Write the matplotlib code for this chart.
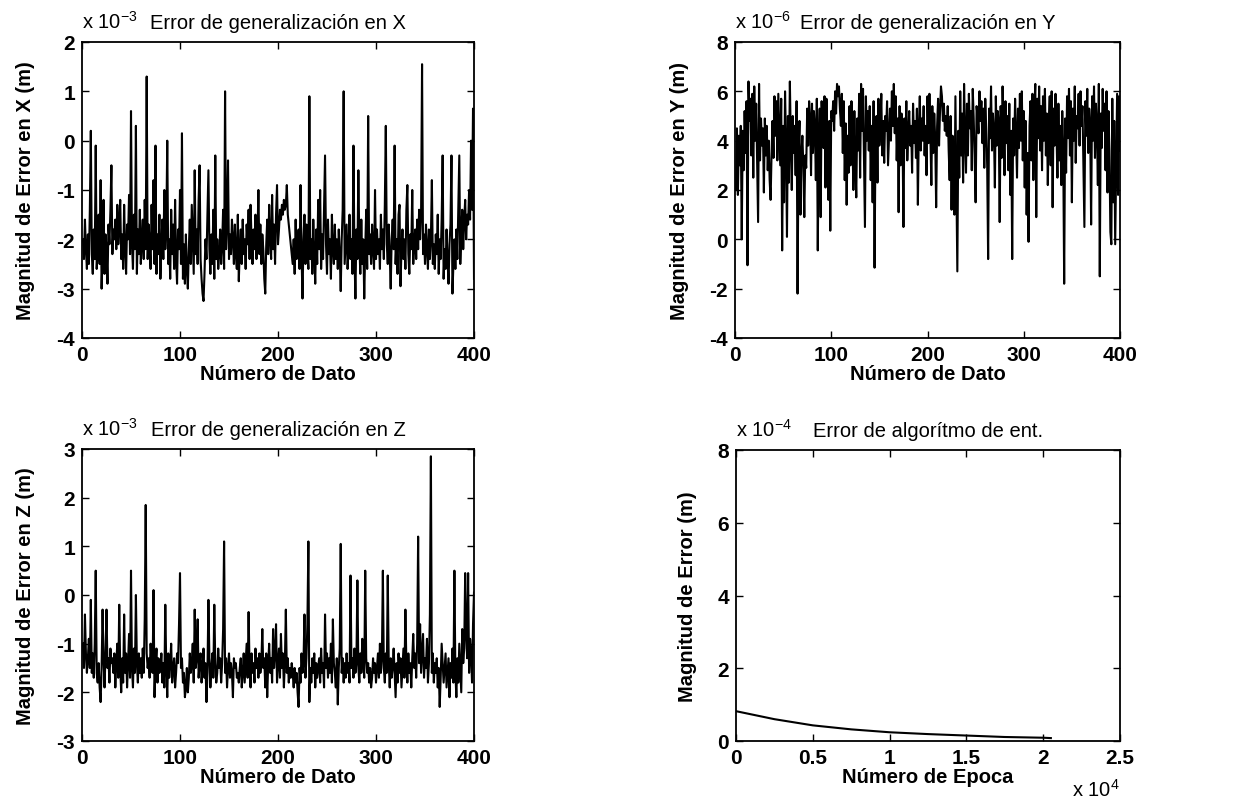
import matplotlib
matplotlib.use('Agg')
import matplotlib.pyplot as plt
import numpy as np

plt.rcParams['font.family'] = ['Liberation Sans', 'DejaVu Sans']
plt.rcParams['mathtext.fontset'] = 'custom'
plt.rcParams['mathtext.rm'] = 'Liberation Sans'
plt.rcParams['mathtext.it'] = 'Liberation Sans'
plt.rcParams['axes.unicode_minus'] = False

# error in X (x 1e-3 m), data points 1..400
err_x = [
    -2.0, -2.4, -1.6, -2.2, -2.6, -1.9, -2.5, -1.4, 0.2, -2.3, -2.7, -1.8, -2.4, -0.1, -2.6, -2.2, -1.5, -2.5, -0.8, -3.0,
    -2.3, -1.2, -2.7, -1.9, -2.2, -2.9, -1.7, -2.1, -1.4, -0.5, -2.3, -1.8, -2.0, -1.6, -2.2, -1.3, -2.1, -1.7, -1.2, -2.4,
    -1.9, -2.6, -1.3, -2.2, -2.7, -1.7, -2.0, -1.1, -2.3, 0.6, -2.1, -2.6, -1.5, -2.2, 0.3, -2.7, -1.8, -2.3, -1.4, -2.5,
    -2.0, -1.6, -2.4, -1.2, -2.2, 1.3, -2.4, -1.7, -2.1, -2.6, -1.3, -2.2, -0.8, -2.5, -0.1, -2.7, -1.9, -2.3, -1.5, -2.8,
    -2.1, -1.6, -2.4, -1.0, -2.2, -1.8, 0.0, -2.5, -2.0, -2.8, -1.4, -2.3, -1.7, -2.6, -1.2, -2.4, -2.9, -1.8, -2.2, -1.0,
    -2.5, 0.15, -2.8, -2.1, -2.9, -1.9, -2.6, -3.0, -2.2, -1.6, -2.5, -1.3, -2.0, -2.7, -0.6, -2.3, -1.8, -2.5, -1.2, -0.5,
    -2.4, -2.8, -3.1, -3.25, -2.7, -2.0, -2.4, -1.5, -0.6, -2.2, -2.7, -1.9, -2.5, -1.4, -2.8, -0.3, -2.4, -2.0, -2.6, -2.3,
    -1.8, -2.5, -2.1, -1.4, -2.6, 1.0, -2.2, -1.7, -0.4, -2.4, -1.9, -2.3, -1.6, -2.0, -2.5, -1.7, -2.3, -2.6, -1.5, -2.85,
    -2.2, -1.8, -2.5, -1.6, -2.3, -2.0, -2.6, -1.7, -2.1, -1.4, -2.4, -1.3, -2.0, -2.5, -1.8, -2.2, -1.5, -2.4, -2.0, -1.0,
    -2.3, -1.7, -2.5, -1.9, -2.2, -2.8, -3.1, -2.1, -1.6, -2.3, -1.3, -2.0, -2.4, -1.1, -2.2, -1.7, -2.5, -1.5, -0.9, -2.1,
    -1.8, -1.4, -1.6, -1.3, -1.5, -1.2, -1.4, -1.3, -0.9, -1.5, -1.7, -1.9, -2.1, -2.3, -2.5, -2.0, -2.7, -1.6, -2.4, -2.2,
    -1.8, -2.6, -0.9, -2.3, -3.2, -2.0, -1.5, -2.5, -1.7, -2.2, -2.6, 0.9, -2.4, -2.0, -2.7, -1.6, -2.3, -2.9, -1.8, -2.5,
    -1.2, -2.2, -1.0, -2.6, -1.9, -2.4, -1.3, -0.3, -2.1, -2.7, -1.6, -2.3, -2.0, -2.8, -1.5, -2.2, -2.5, -1.7, -2.4, -2.0,
    -2.6, -1.8, -2.3, -3.05, -2.0, -1.4, 1.0, -2.5, -2.1, -1.7, -2.6, -2.2, -1.5, -2.4, -2.0, -2.7, -0.1, -2.3, -3.2, -1.8,
    -2.4, -0.6, -2.1, -2.7, -1.6, -2.5, -2.0, -3.2, -2.2, -1.4, -2.6, 0.5, -2.3, -1.9, -2.5, -1.7, -2.2, -2.6, -1.0, -2.4,
    -1.8, -2.3, -2.0, -2.6, -1.5, -2.2, -1.8, -2.4, -1.3, 0.3, -2.1, -2.5, -1.7, -2.3, -3.0, -2.0, -1.6, -2.2, -0.1, -2.5,
    -2.0, -2.7, -1.5, -1.3, -2.95, -2.2, -1.8, -2.4, -2.0, -2.6, -1.4, -0.9, -2.3, -2.7, -1.9, -2.2, -1.0, -2.5, -2.1, -1.8,
    -2.4, -1.6, -2.2, -1.4, -2.0, -1.5, 1.55, -2.3, -1.9, -2.5, -1.7, -2.2, -2.6, -1.8, -2.4, -2.0, -0.8, -2.5, -2.1, -2.6,
    -1.9, -2.3, -1.5, -2.7, -2.0, -2.4, -1.6, -0.3, -2.8, -2.2, -2.6, -1.8, -2.4, -2.9, -2.1, -1.7, -0.3, -3.1, -2.5, -2.0,
    -2.6, -1.8, -2.4, -1.3, -0.3, -2.5, -1.9, -1.4, -2.2, -1.6, -1.2, -2.0, -1.5, -1.7, -1.0, -1.6, 0.0, -1.4, 0.65, -2.8,
]

# error in Y (x 1e-6 m)
err_y = [
    2.0, 4.5, 1.8, 4.2, 3.0, 4.6, 0.0, 4.4, 2.8, 5.2, 3.5, 5.6, -1.05, 6.4, 4.8, 5.7, 3.4, 5.9, 2.5, 6.2,
    4.0, 5.5, 3.0, 0.7, 6.3, 3.2, 4.9, 3.8, 4.5, 1.9, 4.9, 3.4, 4.6, 2.8, 4.0, 2.4, 1.6, 3.5, 4.8, 3.3,
    5.8, 4.2, 5.6, 3.2, 5.9, 4.4, 3.0, 5.7, -0.45, 4.6, 1.5, 6.0, 3.9, 0.1, 5.0, 2.3, 6.4, 4.0, 2.0, 5.0,
    3.5, 4.6, 2.6, 5.6, -2.2, 3.6, 4.8, 1.0, 3.4, 4.2, 3.0, 0.9, 3.4, 2.9, 5.3, 3.8, 5.6, 4.9, 2.6, 5.5,
    3.5, 5.2, 4.5, 2.4, 5.7, -0.45, 4.0, 5.3, 0.9, 5.6, 4.5, 3.7, 5.8, 2.1, 5.7, 4.1, 1.6, 4.8, 0.35, 5.2,
    4.8, 5.6, 4.4, 6.0, 5.1, 6.3, 5.8, 6.2, 5.3, 4.6, 5.9, 3.5, 5.6, 2.4, 4.7, 1.4, 4.2, 2.7, 5.4, 3.0,
    5.6, 4.0, 2.0, 5.2, 3.2, 1.7, 4.9, 3.6, 5.9, 2.5, 6.3, 4.4, 6.1, 3.3, 0.5, 5.8, 4.0, 5.2, 3.6, 5.4,
    2.4, 4.6, 1.5, 5.6, -1.15, 4.2, 5.0, 2.3, 5.7, 3.8, 4.5, 5.9, 3.4, 4.8, 3.1, 5.0, 4.4, 5.6, 3.0, 4.2,
    5.3, 4.0, 6.0, 4.6, 6.3, 4.3, 5.8, 3.2, 4.9, 1.1, 5.4, 3.0, 5.1, 4.4, 0.5, 4.9, 3.7, 5.6, 3.2, 4.3,
    5.2, 3.8, 4.6, 2.7, 5.5, 3.9, 4.8, 3.3, 5.3, 1.4, 4.5, 5.8, 3.6, 4.9, 4.0, 5.4, 3.4, 4.6, 2.6, 5.8,
    3.9, 5.9, 4.2, 2.2, 5.4, 3.5, 5.1, 4.1, 1.3, 4.6, 5.7, 3.8, 5.2, 6.2, 5.8, 4.8, 5.5, 4.4, 5.0, 4.2,
    5.4, 3.6, 2.4, 5.0, 1.2, 4.2, 3.0, 1.0, 5.8, 2.4, -1.3, 4.4, 2.5, 6.0, 3.4, 5.1, 2.3, 6.3, 4.2, 2.7,
    5.5, 3.4, 5.9, 4.5, 5.2, 2.8, 6.1, 4.9, 3.3, 1.5, 5.4, 5.0, 4.3, 6.0, 4.8, 5.6, 3.9, 5.3, 2.9, 5.7,
    4.5, 3.0, -0.8, 5.3, 4.1, 6.2, 3.6, 5.1, 4.4, 2.1, 5.8, 3.8, 5.2, 4.7, 0.7, 5.4, 3.3, 6.2, 4.6, 2.6,
    5.6, 3.9, 5.0, 2.8, 5.5, 1.8, 4.4, -0.8, 4.9, 3.4, 5.7, 4.2, 2.5, 5.3, 3.7, 5.9, 4.0, 6.0, 3.2, 5.2,
    2.1, 4.8, 1.0, 3.5, -0.1, 4.6, 5.6, 3.2, 5.9, 2.4, 5.3, 6.3, 0.9, 5.7, 4.1, 6.2, 3.6, 5.4, 2.8, 5.8,
    4.0, 6.1, 3.4, 5.1, 2.2, 4.7, 5.8, 3.0, 6.0, 1.3, 5.3, 3.8, 5.9, 4.3, 2.5, 5.5, 3.2, 4.6, 2.2, 5.2,
    3.6, -1.8, 4.9, 2.7, 5.8, 4.1, 6.1, 3.4, 5.6, 1.5, 5.3, 4.0, 6.2, 3.1, 5.0, 4.5, 5.9, 3.8, 6.0, 4.6,
    5.4, 2.9, 0.5, 5.6, 4.2, 6.1, 3.5, 5.3, 4.7, 0.6, 5.8, 4.0, 6.2, 3.3, 5.5, 4.6, 2.2, 6.3, -1.5, 5.1,
    3.7, 6.1, 4.4, 5.5, 2.8, 6.0, 1.9, 5.2, 3.6, 0.3, -0.2, 5.7, 1.5, 4.8, -0.2, 3.0, 5.9, 1.8, 5.8, 3.6,
]

# error in Z (x 1e-3 m)
err_z = [
    -1.0, -1.5, -0.4, -1.2, -1.6, -1.3, -0.9, -1.5, -0.1, -1.6, -1.2, -1.7, -1.0, 0.5, -1.6, -1.8, -1.4, -1.9, -2.2, -1.5,
    -0.3, -1.3, -1.9, -1.2, -0.3, -1.5, -1.3, -1.8, -1.1, -1.4, -1.3, -1.6, -1.2, -1.9, -1.4, -1.0, -1.7, -0.2, -1.5, -2.0,
    -1.3, -1.8, -0.4, -1.6, -1.2, -1.9, -1.4, -0.8, -1.7, 0.5, -1.5, -1.9, -1.1, -1.6, 0.0, -1.4, -1.8, -1.2, -1.6, -1.3,
    -1.7, -1.1, -1.6, -0.5, 1.85, -1.2, -1.5, -1.3, -1.7, -1.0, -1.4, -1.6, 0.1, -2.1, -1.4, -1.1, -1.8, -1.3, -1.6, -1.5,
    -1.2, -1.8, -1.4, -1.9, -0.2, -1.5, -2.1, -1.2, -1.7, -1.4, -1.0, -1.8, -1.5, -1.3, -1.9, -1.6, -1.2, -1.4, -0.6, 0.45,
    -1.5, -1.3, -1.8, -1.6, -2.1, -1.9, -1.5, -2.0, -1.7, -1.2, -1.6, -1.4, -1.0, -1.8, -0.3, -1.5, -1.3, -0.5, -1.7, -1.4,
    -1.2, -1.8, -1.5, -1.1, -1.7, -1.4, -2.2, -1.6, -0.1, -1.3, -1.9, -1.5, -1.2, -1.7, -0.2, -1.4, -1.8, -1.6, -1.1, -1.5,
    -1.3, -1.8, -1.4, -0.7, 1.1, -1.6, -1.3, -1.9, -1.5, -1.2, -1.7, -1.4, -1.6, -2.1, -1.3, -1.5, -1.4, -1.7, -1.6, -1.8,
    -1.5, -1.3, -1.9, -1.6, -1.2, -1.8, -1.4, -1.0, -1.7, -0.35, -1.5, -1.9, -1.2, -1.6, -1.4, -1.8, -1.1, -1.5, -1.3, -1.7,
    -1.2, -1.6, -1.4, -0.7, -1.5, -1.3, -1.9, -1.2, -2.1, -1.4, -1.0, -1.6, -1.3, -1.8, -0.7, -1.5, -1.2, -0.6, -1.8, -1.4,
    -1.1, -1.7, -0.8, -1.5, -1.2, -1.9, -1.4, -0.3, -1.6, -1.3, -1.8, -1.5, -1.7, -1.4, -1.6, -1.9, -1.5, -1.8, -1.6, -2.0,
    -2.3, -1.5, -1.8, -1.2, -1.6, -1.4, -0.4, -1.7, -1.3, -0.6, 1.1, -2.2, -1.5, -1.8, -1.3, -1.6, -1.2, -1.9, -1.4, -1.7,
    -1.5, -1.3, -1.8, -1.1, -1.6, -1.4, -1.9, -0.4, -1.5, -1.2, -1.7, -1.3, -1.6, -1.0, -1.8, -0.5, -1.4, -1.6, -1.9, -1.3,
    -2.25, -1.5, -1.1, 1.05, -1.6, -1.3, -1.8, -1.4, -1.7, -1.2, -1.6, -1.4, -1.8, 0.4, -1.5, -1.3, -1.7, -1.1, -1.6, -1.4,
    0.3, -1.5, -1.8, -1.2, -1.6, -0.9, -1.4, -1.7, 0.5, -1.3, -1.6, -1.4, -1.8, -1.5, -1.9, -1.7, -1.3, -1.6, -1.4, -1.8,
    -1.5, -1.2, -1.7, -1.0, -1.6, -1.3, 0.5, -1.5, -1.8, -1.2, -1.6, 0.4, -1.4, -1.9, -1.3, -1.7, -1.5, -1.1, -1.6, -2.1,
    -1.4, -1.8, -1.2, -1.6, -1.3, -1.9, -1.5, -1.1, -1.7, -0.3, -1.4, -1.8, -1.2, -1.6, -1.4, -1.9, -1.3, -0.8, -1.5, -1.2,
    -1.7, -1.0, 1.2, -1.4, -0.6, -1.6, -1.2, -0.8, -1.7, -1.3, -1.5, -0.9, -1.8, -1.4, -0.4, 2.85, -1.6, -1.2, -1.8, -1.4,
    -1.6, -1.3, -1.9, -1.5, -2.3, -1.7, -1.0, -1.4, -1.8, -1.5, -1.2, -1.9, -1.6, -1.3, -2.1, -1.4, -1.7, -1.1, -1.8, 0.5,
    -1.6, -2.1, -1.3, -1.8, -1.0, -1.5, -2.0, -0.7, -1.4, -1.1, 0.45, -0.8, -1.3, 0.45, -1.6, -0.9, -1.2, -1.8, -0.6, 0.05,
]

# training error vs epoch (x 1e-4 m)
epocas = [0, 2500, 5000, 7500, 10000, 12500, 15000, 17500, 20000, 20500]
err_ent = [0.82, 0.60, 0.43, 0.32, 0.24, 0.19, 0.15, 0.11, 0.09, 0.08]


def style_axes(ax):
    ax.tick_params(direction='in', top=True, right=True, length=5, width=1,
                   labelsize=15, pad=5)
    for lbl in ax.get_xticklabels() + ax.get_yticklabels():
        lbl.set_fontweight('bold')
    for sp in ax.spines.values():
        sp.set_linewidth(1.3)


def main():
    fig = plt.figure(figsize=(12.48, 8.03), dpi=100)

    # axes boxes in pixels (left, right, top, bottom) of the 1248x803 canvas
    boxes = [(82, 474, 43, 339), (735, 1120, 43, 339),
             (82, 474, 450, 742), (736, 1120, 451, 742)]
    axs = [fig.add_axes([l / 1248, (803 - b) / 803, (r - l) / 1248, (b - t) / 803])
           for l, r, t, b in boxes]
    ax1, ax2, ax3, ax4 = axs

    n = np.arange(1, len(err_x) + 1)
    lbl_font = dict(fontsize=14.5, fontweight='bold')
    tit_font = dict(fontsize=14.5)

    panels = [
        (ax1, err_x, (-4, 2), 1, 'Magnitud de Error en X (m)', 'Error de generalización en X', -3),
        (ax2, err_y, (-4, 8), 2, 'Magnitud de Error en Y (m)', 'Error de generalización en Y', -6),
        (ax3, err_z, (-3, 3), 1, 'Magnitud de Error en Z (m)', 'Error de generalización en Z', -3),
    ]
    for ax, data, ylim, step, ylab, title, expo in panels:
        ax.plot(n, data, color='black', lw=1.5)
        ax.set_xlim(0, 400)
        ax.set_ylim(*ylim)
        ax.set_xticks(np.arange(0, 401, 100))
        ax.set_yticks(np.arange(ylim[0], ylim[1] + 1, step))
        ax.set_xlabel('Número de Dato', labelpad=0, **lbl_font)
        ax.set_ylabel(ylab, labelpad=15, **lbl_font)
        ax.text(0.5, 1.035, title, transform=ax.transAxes, ha='center',
                va='bottom', **tit_font)
        ax.text(0.0, 1.035, r'x 10$^{%d}$' % expo, transform=ax.transAxes,
                fontsize=14.5, ha='left', va='bottom')
        style_axes(ax)

    ax4.plot(epocas, err_ent, color='black', lw=1.5)
    ax4.set_xlim(0, 25000)
    ax4.set_ylim(0, 8)
    ax4.set_xticks(np.arange(0, 25001, 5000))
    ax4.set_xticklabels(['0', '0.5', '1', '1.5', '2', '2.5'])
    ax4.set_yticks(np.arange(0, 9, 2))
    ax4.set_xlabel('Número de Epoca', labelpad=0, **lbl_font)
    ax4.set_ylabel('Magnitud de Error (m)', labelpad=15, **lbl_font)
    ax4.text(0.5, 1.035, 'Error de algorítmo de ent.', transform=ax4.transAxes,
             ha='center', va='bottom', **tit_font)
    ax4.text(0.0, 1.035, r'x 10$^{-4}$', transform=ax4.transAxes,
             fontsize=14.5, ha='left', va='bottom')
    ax4.text(1.0, -0.165, r'x 10$^{4}$', transform=ax4.transAxes,
             fontsize=14.5, ha='right', va='center')
    style_axes(ax4)

    fig.savefig('out.png', dpi=100)


if __name__ == '__main__':
    main()
